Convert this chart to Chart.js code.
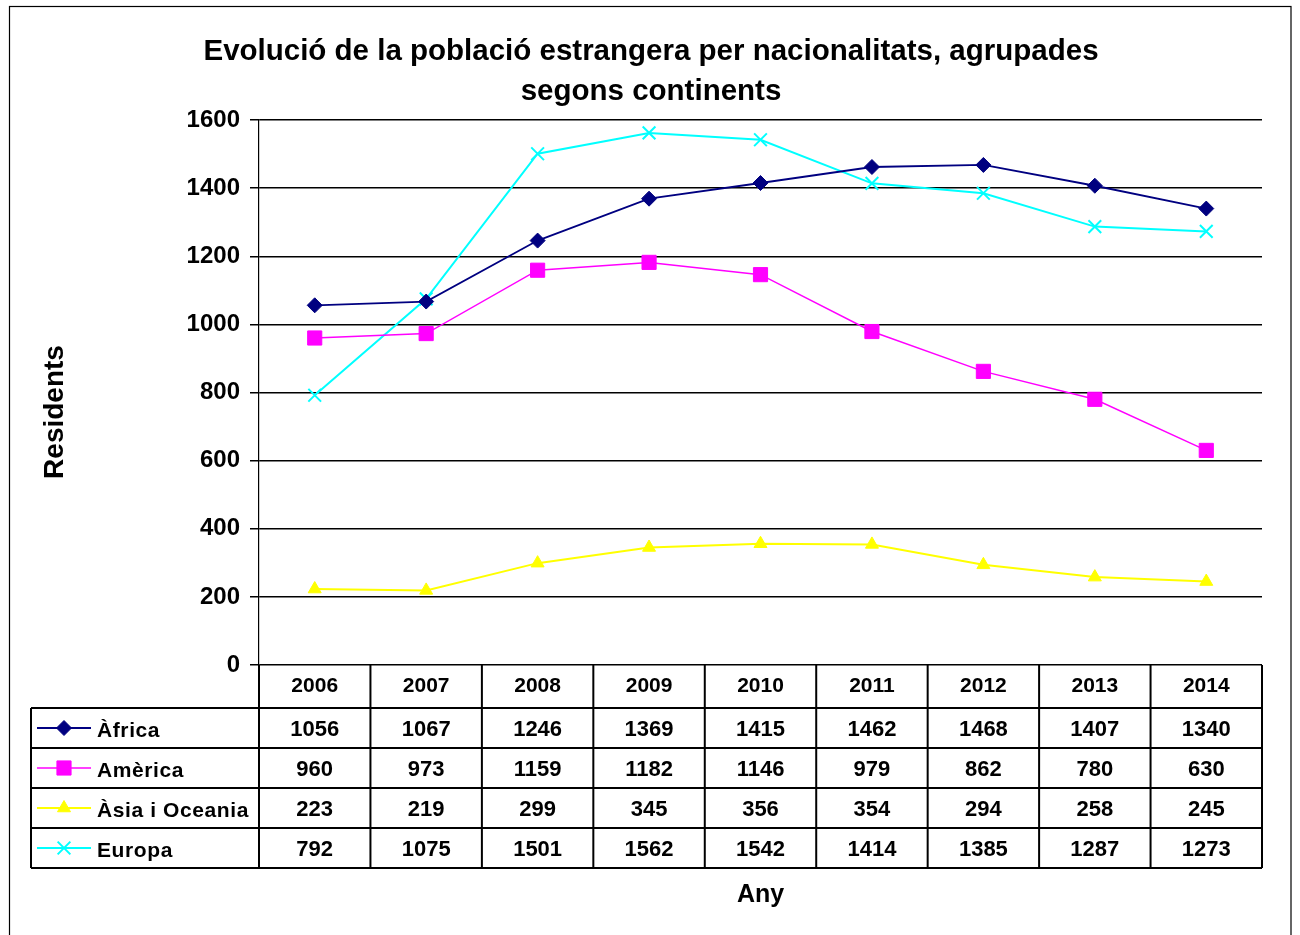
<!DOCTYPE html>
<html>
<head>
<meta charset="utf-8">
<script src="https://cdn.jsdelivr.net/npm/chart.js@4.4.0/dist/chart.umd.min.js"></script>
<style>
html,body{margin:0;padding:0;background:#fff;}
#wrap{width:1300px;height:935px;}
</style>
</head>
<body>
<div id="wrap"><canvas id="c" width="1300" height="935"></canvas></div>
<script>
const years = ['2006','2007','2008','2009','2010','2011','2012','2013','2014'];
const seriesNames = ['Àfrica','Amèrica','Àsia i Oceania','Europa'];
const africa = [1056,1067,1246,1369,1415,1462,1468,1407,1340];
const america = [960,973,1159,1182,1146,979,862,780,630];
const asiaOceania = [223,219,299,345,356,354,294,258,245];
const europa = [792,1075,1501,1562,1542,1414,1385,1287,1273];
const yTicks = [0,200,400,600,800,1000,1200,1400,1600];

const FONT = "'Liberation Sans', Arial, Helvetica, sans-serif";
Chart.defaults.font.family = FONT;
Chart.defaults.color = '#000';

const styles = [
  {color:'#000080', pointStyle:'rectRot', radius:7.5, lineWidth:1.8, pbw:1},
  {color:'#FF00FF', pointStyle:'rect', radius:10, lineWidth:1.5, pbw:1},
  {color:'#FFFF00', pointStyle:'triangle', radius:7.5, lineWidth:2, pbw:1},
  {color:'#00FFFF', pointStyle:'crossRot', radius:9, lineWidth:2, pbw:2}
];
const allData = [africa, america, asiaOceania, europa];

const datasets = allData.map((d,i)=>({
  label: seriesNames[i],
  data: d,
  borderColor: styles[i].color,
  backgroundColor: styles[i].color,
  pointBackgroundColor: styles[i].color,
  pointBorderColor: styles[i].color,
  pointStyle: styles[i].pointStyle,
  pointRadius: styles[i].radius,
  pointBorderWidth: styles[i].pbw,
  borderWidth: styles[i].lineWidth,
  tension: 0,
  fill: false
}));

const HEADER_H = 43, ROW_H = 40, LEG_LEFT = 31;

const tablePlugin = {
  id: 'dataTable',
  afterDraw(chart){
    const ctx = chart.ctx;
    const ca = chart.chartArea;
    const x = chart.scales.x;
    const n = years.length;
    const colW = (ca.right - ca.left) / n;
    const top = ca.bottom;
    const rowTop = top + HEADER_H;
    const bottom = rowTop + ROW_H * allData.length;
    ctx.save();
    // outer border
    ctx.strokeStyle = '#000';
    ctx.lineWidth = 1.2;
    ctx.strokeRect(9.5, 6.5, 1281.5, 1000);
    // y-axis title
    ctx.save();
    ctx.translate(55, 412);
    ctx.rotate(-Math.PI / 2);
    ctx.fillStyle = '#000';
    ctx.font = 'bold 28px ' + FONT;
    ctx.textAlign = 'center';
    ctx.textBaseline = 'middle';
    ctx.fillText('Residents', 0, 0);
    ctx.restore();
    // table lines
    ctx.lineWidth = 2;
    ctx.beginPath();
    for (let i = 0; i <= n; i++) {
      const xx = ca.left + i * colW;
      ctx.moveTo(xx, top); ctx.lineTo(xx, bottom);
    }
    ctx.moveTo(LEG_LEFT, rowTop); ctx.lineTo(LEG_LEFT, bottom);
    for (let r = 0; r <= allData.length; r++) {
      const yy = rowTop + r * ROW_H;
      ctx.moveTo(LEG_LEFT, yy); ctx.lineTo(ca.right, yy);
    }
    ctx.stroke();
    // values
    ctx.fillStyle = '#000';
    ctx.font = 'bold 22px ' + FONT;
    ctx.textAlign = 'center';
    ctx.textBaseline = 'middle';
    allData.forEach((d, r) => {
      const yy = rowTop + r * ROW_H + ROW_H / 2 + 2;
      d.forEach((v, i) => {
        ctx.fillText(String(v), x.getPixelForValue(i), yy);
      });
    });
    // legend keys
    allData.forEach((d, r) => {
      const yy = rowTop + r * ROW_H + ROW_H / 2;
      const s = styles[r];
      ctx.strokeStyle = s.color;
      ctx.fillStyle = s.color;
      ctx.lineWidth = s.lineWidth;
      ctx.beginPath();
      ctx.moveTo(37, yy); ctx.lineTo(91, yy);
      ctx.stroke();
      ctx.lineWidth = s.pbw;
      Chart.helpers.drawPoint(ctx, {pointStyle: s.pointStyle, radius: s.radius, rotation: 0, borderWidth: s.pbw}, 64, yy);
      ctx.fillStyle = '#000';
      ctx.textAlign = 'left';
      try { ctx.letterSpacing = '0.6px'; } catch(e) {}
      ctx.font = 'bold 21px ' + FONT;
      ctx.fillText(seriesNames[r], 97, yy + 3);
      try { ctx.letterSpacing = '0px'; } catch(e) {}
    });
    ctx.restore();
  }
};

new Chart(document.getElementById('c'), {
  type: 'line',
  data: { labels: years, datasets },
  plugins: [tablePlugin],
  options: {
    responsive: false,
    animation: false,
    layout: { padding: { left: 40, right: 38, top: 0, bottom: 0 } },
    plugins: {
      legend: { display: false },
      tooltip: { enabled: false },
      title: {
        display: true,
        text: ['Evolució de la població estrangera per nacionalitats, agrupades', 'segons continents'],
        color: '#000',
        font: { size: 29.5, weight: 'bold', family: FONT, lineHeight: '40px' },
        padding: { top: 32, bottom: 8 }
      }
    },
    scales: {
      x: {
        type: 'category',
        offset: true,
        grid: { display: false, drawTicks: false },
        border: { display: false },
        ticks: { font: { size: 21, weight: 'bold' }, color: '#000', padding: 9, maxRotation: 0 },
        title: { display: true, text: 'Any', color: '#000', font: { size: 25, weight: 'bold' }, padding: { top: 0, bottom: 25 } },
        afterFit(scale) { scale.height = 270; }
      },
      y: {
        min: 0, max: 1600,
        afterBuildTicks(scale) { scale.ticks = yTicks.map(v => ({ value: v })); },
        grid: { color: '#000', lineWidth: 1.5, tickLength: 9, drawTicks: true },
        border: { display: true, color: '#000', width: 1.2 },
        ticks: { font: { size: 24, weight: 'bold' }, color: '#000', padding: 10, callback: (v) => String(v) },
        title: { display: false },
        afterFit(scale) { scale.width = 219; }
      }
    }
  }
});
</script>
</body>
</html>
